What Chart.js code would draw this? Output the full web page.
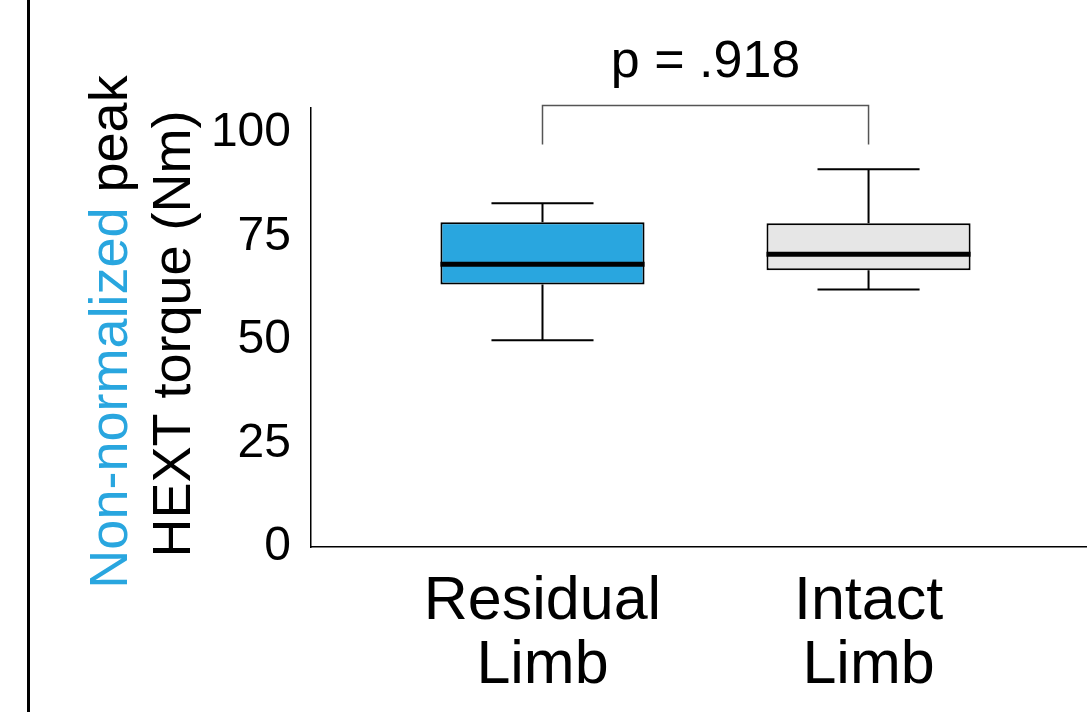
<!DOCTYPE html>
<html>
<head>
<meta charset="utf-8">
<script src="https://cdn.jsdelivr.net/npm/chart.js@4.4.0/dist/chart.umd.min.js"></script>
<style>
  html, body { margin: 0; padding: 0; background: #fff; }
  #wrap { position: relative; width: 1087px; height: 712px; }
</style>
</head>
<body>
<div id="wrap"><canvas id="chart-box"></canvas></div>
<script>
const categories = [['Residual', 'Limb'], ['Intact', 'Limb']]
const positions = [1, 2]
const whiskerLow = [49.9, 62.2]
const q1 = [63.4, 66.8]
const medians = [68.3, 70.7]
const q3 = [78.4, 78.2]
const whiskerHigh = [83.0, 91.2]
const yTicks = [0, 25, 50, 75, 100]
const pText = 'p = .918'
const titleColored = 'Non-normalized '
const titleRest = 'peak'
const titleLine2 = 'HEXT torque (Nm)'

const fontFamily = '"Liberation Sans", Arial, Helvetica, sans-serif'
const blue = '#29a6df'
const grey = '#e6e6e6'

const boxData = positions.map((x, i) => ({ x: x, y: [q1[i], q3[i]] }))

const boxPlugin = {
  id: 'boxExtras',
  afterDatasetsDraw(chart) {
    const ctx = chart.ctx
    const xs = chart.scales.x
    const ys = chart.scales.y
    const meta = chart.getDatasetMeta(0)

    ctx.save()
    ctx.strokeStyle = '#000'
    ctx.lineCap = 'butt'
    positions.forEach((pos, i) => {
      const cx = xs.getPixelForValue(pos)
      const half = meta.data[i].width / 2
      const capHalf = half / 2

      ctx.lineWidth = 2
      ctx.beginPath()
      ctx.moveTo(cx, ys.getPixelForValue(q3[i]))
      ctx.lineTo(cx, ys.getPixelForValue(whiskerHigh[i]))
      ctx.moveTo(cx, ys.getPixelForValue(q1[i]))
      ctx.lineTo(cx, ys.getPixelForValue(whiskerLow[i]))
      ctx.moveTo(cx - capHalf, ys.getPixelForValue(whiskerHigh[i]))
      ctx.lineTo(cx + capHalf, ys.getPixelForValue(whiskerHigh[i]))
      ctx.moveTo(cx - capHalf, ys.getPixelForValue(whiskerLow[i]))
      ctx.lineTo(cx + capHalf, ys.getPixelForValue(whiskerLow[i]))
      ctx.stroke()

      ctx.lineWidth = 5
      ctx.beginPath()
      ctx.moveTo(cx - half, ys.getPixelForValue(medians[i]))
      ctx.lineTo(cx + half, ys.getPixelForValue(medians[i]))
      ctx.stroke()
    })

    // significance bracket
    const x1 = xs.getPixelForValue(positions[0])
    const x2 = xs.getPixelForValue(positions[1])
    const top = ys.getPixelForValue(106.6)
    const foot = ys.getPixelForValue(97.2)
    ctx.strokeStyle = '#555'
    ctx.lineWidth = 1.5
    ctx.beginPath()
    ctx.moveTo(x1, foot)
    ctx.lineTo(x1, top)
    ctx.lineTo(x2, top)
    ctx.lineTo(x2, foot)
    ctx.stroke()

    ctx.fillStyle = '#000'
    ctx.font = '52px ' + fontFamily
    ctx.textAlign = 'center'
    ctx.textBaseline = 'alphabetic'
    ctx.fillText(pText, (x1 + x2) / 2, top - 29)

    // y title, two lines, first one partly blue
    ctx.font = '54px ' + fontFamily
    ctx.textAlign = 'left'
    const cy = 332
    ctx.save()
    ctx.translate(127, cy)
    ctx.rotate(-Math.PI / 2)
    const w1 = ctx.measureText(titleColored).width
    const w2 = ctx.measureText(titleRest).width
    let start = -(w1 + w2) / 2
    ctx.fillStyle = blue
    ctx.fillText(titleColored, start, 0)
    ctx.fillStyle = '#000'
    ctx.fillText(titleRest, start + w1, 0)
    ctx.restore()

    ctx.save()
    ctx.translate(190, cy + 2)
    ctx.rotate(-Math.PI / 2)
    ctx.textAlign = 'center'
    ctx.fillStyle = '#000'
    ctx.fillText(titleLine2, 0, 0)
    ctx.restore()

    // left frame line
    ctx.fillStyle = '#000'
    ctx.fillRect(27, 0, 3, chart.height)
    ctx.restore()
  }
}

const ctxBox = document.getElementById('chart-box').getContext('2d')

new Chart(ctxBox, {
  type: 'bar',
  data: {
    datasets: [{
      data: boxData,
      backgroundColor: [blue, grey],
      borderColor: '#000',
      borderWidth: 2,
      borderSkipped: false,
      categoryPercentage: 1,
      barPercentage: 0.626
    }]
  },
  options: {
    responsive: true,
    maintainAspectRatio: false,
    animation: false,
    layout: { padding: { top: 108, left: 0, right: 0, bottom: 0 } },
    plugins: {
      legend: { display: false },
      tooltip: { enabled: false }
    },
    scales: {
      x: {
        type: 'linear',
        offset: false,
        min: 0.29,
        max: 2.67,
        grid: { display: false, drawTicks: false },
        border: { display: true, color: '#000', width: 1.5 },
        afterBuildTicks: s => { s.ticks = positions.map(v => ({ value: v })) },
        afterFit: s => { s.height = 165 },
        ticks: {
          color: '#000',
          padding: 23,
          maxRotation: 0,
          autoSkip: false,
          font: { size: 61, family: fontFamily, lineHeight: 1.05 },
          callback: v => categories[positions.indexOf(v)]
        }
      },
      y: {
        min: 0,
        max: 106,
        grid: { display: false, drawTicks: false },
        border: { display: true, color: '#000', width: 1.5 },
        afterBuildTicks: s => { s.ticks = yTicks.map(v => ({ value: v })) },
        afterFit: s => { s.width = 311 },
        ticks: {
          color: '#000',
          padding: 20,
          font: { size: 48, family: fontFamily }
        }
      }
    }
  },
  plugins: [boxPlugin]
})
</script>
</body>
</html>
